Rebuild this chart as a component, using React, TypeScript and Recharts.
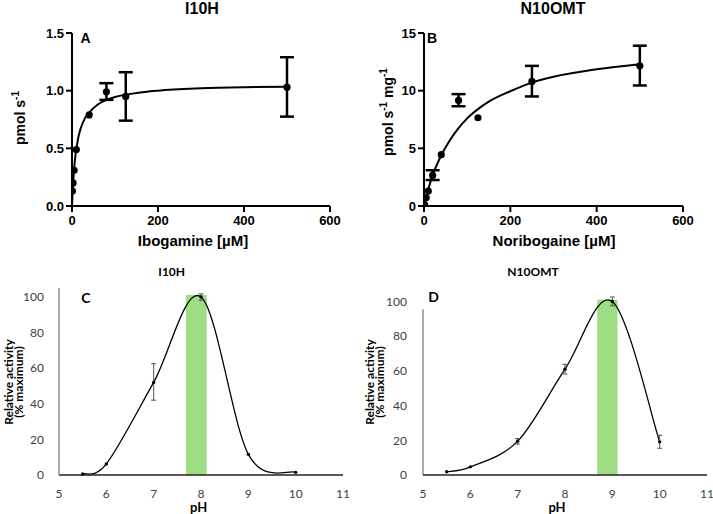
import React from 'react';
import {
  ComposedChart,
  Line,
  Scatter,
  XAxis,
  YAxis,
  ErrorBar,
  ReferenceArea,
  ReferenceLine,
} from 'recharts';

// ---------- Panel A: I10H kinetics (Ibogamine) ----------
const aConc = [1, 2.5, 5, 10, 40, 80, 125, 500];
const aRate = [0.13, 0.2, 0.31, 0.49, 0.79, 0.99, 0.95, 1.03];
const aLow: (number | null)[] = [null, null, null, null, null, 0.92, 0.74, 0.775];
const aHigh: (number | null)[] = [null, null, null, null, null, 1.065, 1.16, 1.29];
const aFitX = [0, 1, 2, 4, 6, 8, 10, 15, 20, 30, 40, 60, 80, 100, 150, 200, 300, 400, 500];
const aFitY = [0, 0.09, 0.16, 0.28, 0.37, 0.44, 0.49, 0.6, 0.67, 0.76, 0.81, 0.88, 0.92, 0.945, 0.98, 1.0, 1.02, 1.03, 1.035];

// ---------- Panel B: N10OMT kinetics (Noribogaine) ----------
const bConc = [1, 5, 10, 20, 40, 80, 125, 250, 500];
const bRate = [0.15, 0.72, 1.3, 2.65, 4.45, 9.15, 7.65, 10.8, 12.15];
const bLow: (number | null)[] = [null, null, null, 2.25, null, 8.65, null, 9.5, 10.45];
const bHigh: (number | null)[] = [null, null, null, 3.1, null, 9.7, null, 12.15, 13.9];
const bFitX = [0, 5, 10, 20, 40, 60, 80, 100, 125, 150, 200, 250, 300, 400, 500];
const bFitY = [0, 0.77, 1.46, 2.65, 4.4, 5.7, 6.75, 7.6, 8.4, 9.05, 9.95, 10.7, 11.2, 11.85, 12.3];

// ---------- Panel C: I10H pH profile ----------
const cPH = [5.5, 6, 7, 8, 9, 10];
const cAct = [0.6, 6.2, 52, 100, 11.6, 1.5];
const cLow: (number | null)[] = [null, null, 42, 98.1, null, null];
const cHigh: (number | null)[] = [null, null, 62.5, 101.7, null, null];
const cOptimum = [7.68, 8.12];

// ---------- Panel D: N10OMT pH profile ----------
const dPH = [5.5, 6, 7, 8, 9, 10];
const dAct = [1.9, 4.7, 19.5, 61, 100, 19.1];
const dLow: (number | null)[] = [null, null, 17.8, 58.2, 97.5, 15.4];
const dHigh: (number | null)[] = [null, null, 21, 63.8, 102.6, 22.9];
const dOptimum = [8.68, 9.11];

const kinTicksX = [0, 200, 400, 600];
const aTicksY = [0, 0.5, 1.0, 1.5];
const bTicksY = [0, 5, 10, 15];
const phTicksX = [5, 6, 7, 8, 9, 10, 11];
const phTicksY = [0, 20, 40, 60, 80, 100];

const buildPts = (xs: number[], ys: number[], lo: (number | null)[], hi: (number | null)[]) =>
  xs.map((x, i) => ({
    x,
    y: ys[i],
    err: lo[i] != null && hi[i] != null ? [ys[i] - (lo[i] as number), (hi[i] as number) - ys[i]] : undefined,
  }));
const buildLine = (xs: number[], ys: number[]) => xs.map((x, i) => ({ x, y: ys[i] }));

const aPts = buildPts(aConc, aRate, aLow, aHigh);
const bPts = buildPts(bConc, bRate, bLow, bHigh);
const cPts = buildPts(cPH, cAct, cLow, cHigh);
const dPts = buildPts(dPH, dAct, dLow, dHigh);
const aFit = buildLine(aFitX, aFitY);
const bFit = buildLine(bFitX, bFitY);
const cLine = buildLine(cPH, cAct);
const dLine = buildLine(dPH, dAct);

// Excel-like smoothed line (Catmull-Rom style Bezier) as a curve factory
const excelSmooth: any = (context: any) => {
  let pts: number[][] = [];
  return {
    areaStart() {},
    areaEnd() {},
    lineStart() {
      pts = [];
    },
    lineEnd() {
      const n = pts.length;
      if (!n) return;
      context.moveTo(pts[0][0], pts[0][1]);
      for (let i = 0; i < n - 1; i++) {
        const p0 = pts[Math.max(i - 1, 0)];
        const p1 = pts[i];
        const p2 = pts[i + 1];
        const p3 = pts[Math.min(i + 2, n - 1)];
        context.bezierCurveTo(
          p1[0] + (p2[0] - p0[0]) / 6,
          p1[1] + (p2[1] - p0[1]) / 6,
          p2[0] - (p3[0] - p1[0]) / 6,
          p2[1] - (p3[1] - p1[1]) / 6,
          p2[0],
          p2[1]
        );
      }
    },
    point(x: number, y: number) {
      pts.push([+x, +y]);
    },
  };
};

const ARIAL = '"Liberation Sans", Arial, sans-serif';
const CAL = 'Lato, "Open Sans", sans-serif';

const Txt = ({ x, y, rot, style, children }: any) => (
  <div
    style={{
      position: 'absolute',
      left: x,
      top: y,
      transform: `translate(-50%, -50%)${rot ? ' rotate(-90deg)' : ''}`,
      whiteSpace: 'nowrap',
      textAlign: 'center',
      ...style,
    }}
  >
    {children}
  </div>
);

const bigDot = (p: any) => <circle cx={p.cx} cy={p.cy} r={3.6} fill="#000" />;
const smallDot = (p: any) => <circle cx={p.cx} cy={p.cy} r={1.7} fill="#000" />;

const kinAxisTick = { fill: '#000', fontSize: 13, fontWeight: 700, fontFamily: ARIAL };
const kinLine = { stroke: '#000', strokeWidth: 2 };
const phTick = { fill: '#404040', fontSize: 12, fontFamily: CAL };

const boldA = { fontFamily: ARIAL, fontWeight: 700, color: '#000' };
const boldC = { fontFamily: CAL, fontWeight: 700, color: '#000' };

export default function App() {
  return (
    <div style={{ position: 'absolute', left: 0, top: 0, width: 713, height: 514, background: '#fff', overflow: 'hidden' }}>
      {/* Panel A */}
      <div style={{ position: 'absolute', left: 0, top: 0 }}>
        <ComposedChart width={360} height={250} margin={{ top: 33, right: 30, bottom: 0, left: 0 }}>
          <XAxis
            type="number"
            dataKey="x"
            domain={[0, 600]}
            ticks={kinTicksX}
            height={44}
            tickSize={6}
            tickMargin={4}
            axisLine={kinLine}
            tickLine={kinLine}
            tick={kinAxisTick}
            allowDataOverflow
          />
          <YAxis
            type="number"
            dataKey="y"
            domain={[0, 1.5]}
            ticks={aTicksY}
            width={72}
            tickSize={6}
            tickMargin={2}
            axisLine={kinLine}
            tickLine={kinLine}
            tick={kinAxisTick}
            tickFormatter={(v: number) => v.toFixed(1)}
            allowDataOverflow
          />
          <Line data={aFit} dataKey="y" type="monotone" stroke="#000" strokeWidth={2} dot={false} isAnimationActive={false} />
          <Scatter data={aPts} dataKey="y" shape={bigDot} isAnimationActive={false}>
            <ErrorBar dataKey="err" direction="y" width={7} stroke="#000" strokeWidth={2.5} />
          </Scatter>
        </ComposedChart>
      </div>

      {/* Panel B */}
      <div style={{ position: 'absolute', left: 355, top: 0 }}>
        <ComposedChart width={358} height={250} margin={{ top: 33, right: 30, bottom: 0, left: 0 }}>
          <XAxis
            type="number"
            dataKey="x"
            domain={[0, 600]}
            ticks={kinTicksX}
            height={44}
            tickSize={6}
            tickMargin={4}
            axisLine={kinLine}
            tickLine={kinLine}
            tick={kinAxisTick}
            allowDataOverflow
          />
          <YAxis
            type="number"
            dataKey="y"
            domain={[0, 15]}
            ticks={bTicksY}
            width={69}
            tickSize={6}
            tickMargin={2}
            axisLine={kinLine}
            tickLine={kinLine}
            tick={kinAxisTick}
            allowDataOverflow
          />
          <Line data={bFit} dataKey="y" type="monotone" stroke="#000" strokeWidth={2} dot={false} isAnimationActive={false} />
          <Scatter data={bPts} dataKey="y" shape={bigDot} isAnimationActive={false}>
            <ErrorBar dataKey="err" direction="y" width={7} stroke="#000" strokeWidth={2.5} />
          </Scatter>
        </ComposedChart>
      </div>

      {/* Panel C */}
      <div style={{ position: 'absolute', left: 0, top: 255 }}>
        <ComposedChart width={360} height={259} margin={{ top: 33, right: 17, bottom: 0, left: 0 }}>
          <XAxis
            type="number"
            dataKey="x"
            domain={[5, 11]}
            ticks={phTicksX}
            height={39}
            tickLine={false}
            tickMargin={8}
            axisLine={{ stroke: '#222', strokeWidth: 1.3 }}
            tick={phTick}
            allowDataOverflow
          />
          <YAxis
            type="number"
            dataKey="y"
            domain={[0, 105]}
            ticks={phTicksY}
            width={59}
            tickLine={false}
            tickMargin={9}
            axisLine={{ stroke: '#8c8c8c', strokeWidth: 1.5 }}
            tick={phTick}
          />
          <ReferenceArea x1={cOptimum[0]} x2={cOptimum[1]} y1={0} y2={101} fill="#9edd84" fillOpacity={1} stroke="none" ifOverflow="visible" />
          <Line data={cLine} dataKey="y" type={excelSmooth} stroke="#000" strokeWidth={1.3} dot={false} isAnimationActive={false} />
          <Scatter data={cPts} dataKey="y" shape={smallDot} isAnimationActive={false}>
            <ErrorBar dataKey="err" direction="y" width={2.5} stroke="#555" strokeWidth={1} />
          </Scatter>
        </ComposedChart>
      </div>

      {/* Panel D */}
      <div style={{ position: 'absolute', left: 355, top: 255 }}>
        <ComposedChart width={358} height={259} margin={{ top: 42, right: 6, bottom: 0, left: 0 }}>
          <XAxis
            type="number"
            dataKey="x"
            domain={[5, 11]}
            ticks={phTicksX}
            height={39}
            tickLine={false}
            tickMargin={8}
            axisLine={{ stroke: '#222', strokeWidth: 1.3 }}
            tick={phTick}
            allowDataOverflow
          />
          <YAxis
            type="number"
            dataKey="y"
            domain={[0, 100]}
            ticks={phTicksY}
            width={68}
            tickLine={false}
            tickMargin={10}
            axisLine={false}
            tick={phTick}
          />
          <ReferenceLine segment={[{ x: 5, y: 0 }, { x: 5, y: 95.5 }]} stroke="#8c8c8c" strokeWidth={1.5} />
          <ReferenceArea x1={dOptimum[0]} x2={dOptimum[1]} y1={0} y2={101} fill="#9edd84" fillOpacity={1} stroke="none" ifOverflow="visible" />
          <Line data={dLine} dataKey="y" type={excelSmooth} stroke="#000" strokeWidth={1.3} dot={false} isAnimationActive={false} />
          <Scatter data={dPts} dataKey="y" shape={smallDot} isAnimationActive={false}>
            <ErrorBar dataKey="err" direction="y" width={2.5} stroke="#555" strokeWidth={1} />
          </Scatter>
        </ComposedChart>
      </div>

      {/* Text: panel A */}
      <Txt x={202} y={9} style={{ ...boldA, fontSize: 16 }}>I10H</Txt>
      <Txt x={85.5} y={38} style={{ ...boldA, fontSize: 14 }}>A</Txt>
      <Txt x={18.5} y={118} rot style={{ ...boldA, fontSize: 14 }}>
        pmol s<sup style={{ fontSize: 10 }}>-1</sup>
      </Txt>
      <Txt x={193} y={240} style={{ ...boldA, fontSize: 15 }}>Ibogamine [µM]</Txt>

      {/* Text: panel B */}
      <Txt x={553} y={9} style={{ ...boldA, fontSize: 16 }}>N10OMT</Txt>
      <Txt x={432} y={38} style={{ ...boldA, fontSize: 14 }}>B</Txt>
      <Txt x={387} y={112} rot style={{ ...boldA, fontSize: 14 }}>
        pmol s<sup style={{ fontSize: 10 }}>-1</sup> mg<sup style={{ fontSize: 10 }}>-1</sup>
      </Txt>
      <Txt x={554} y={240} style={{ ...boldA, fontSize: 15 }}>Noribogaine [µM]</Txt>

      {/* Text: panel C */}
      <Txt x={171.7} y={271} style={{ ...boldC, fontSize: 12 }}>I10H</Txt>
      <Txt x={86} y={297} style={{ ...boldC, fontSize: 14 }}>C</Txt>
      <Txt x={13.5} y={382} rot style={{ ...boldC, fontSize: 12, lineHeight: '10px' }}>
        Relative activity<br />(% maximum)
      </Txt>
      <Txt x={198.7} y={507} style={{ ...boldC, fontSize: 13 }}>pH</Txt>

      {/* Text: panel D */}
      <Txt x={533} y={271} style={{ ...boldC, fontSize: 12 }}>N10OMT</Txt>
      <Txt x={433.7} y={295.5} style={{ ...boldC, fontSize: 14 }}>D</Txt>
      <Txt x={375} y={382} rot style={{ ...boldC, fontSize: 12, lineHeight: '10px' }}>
        Relative activity<br />(% maximum)
      </Txt>
      <Txt x={557} y={507} style={{ ...boldC, fontSize: 13 }}>pH</Txt>
    </div>
  );
}
